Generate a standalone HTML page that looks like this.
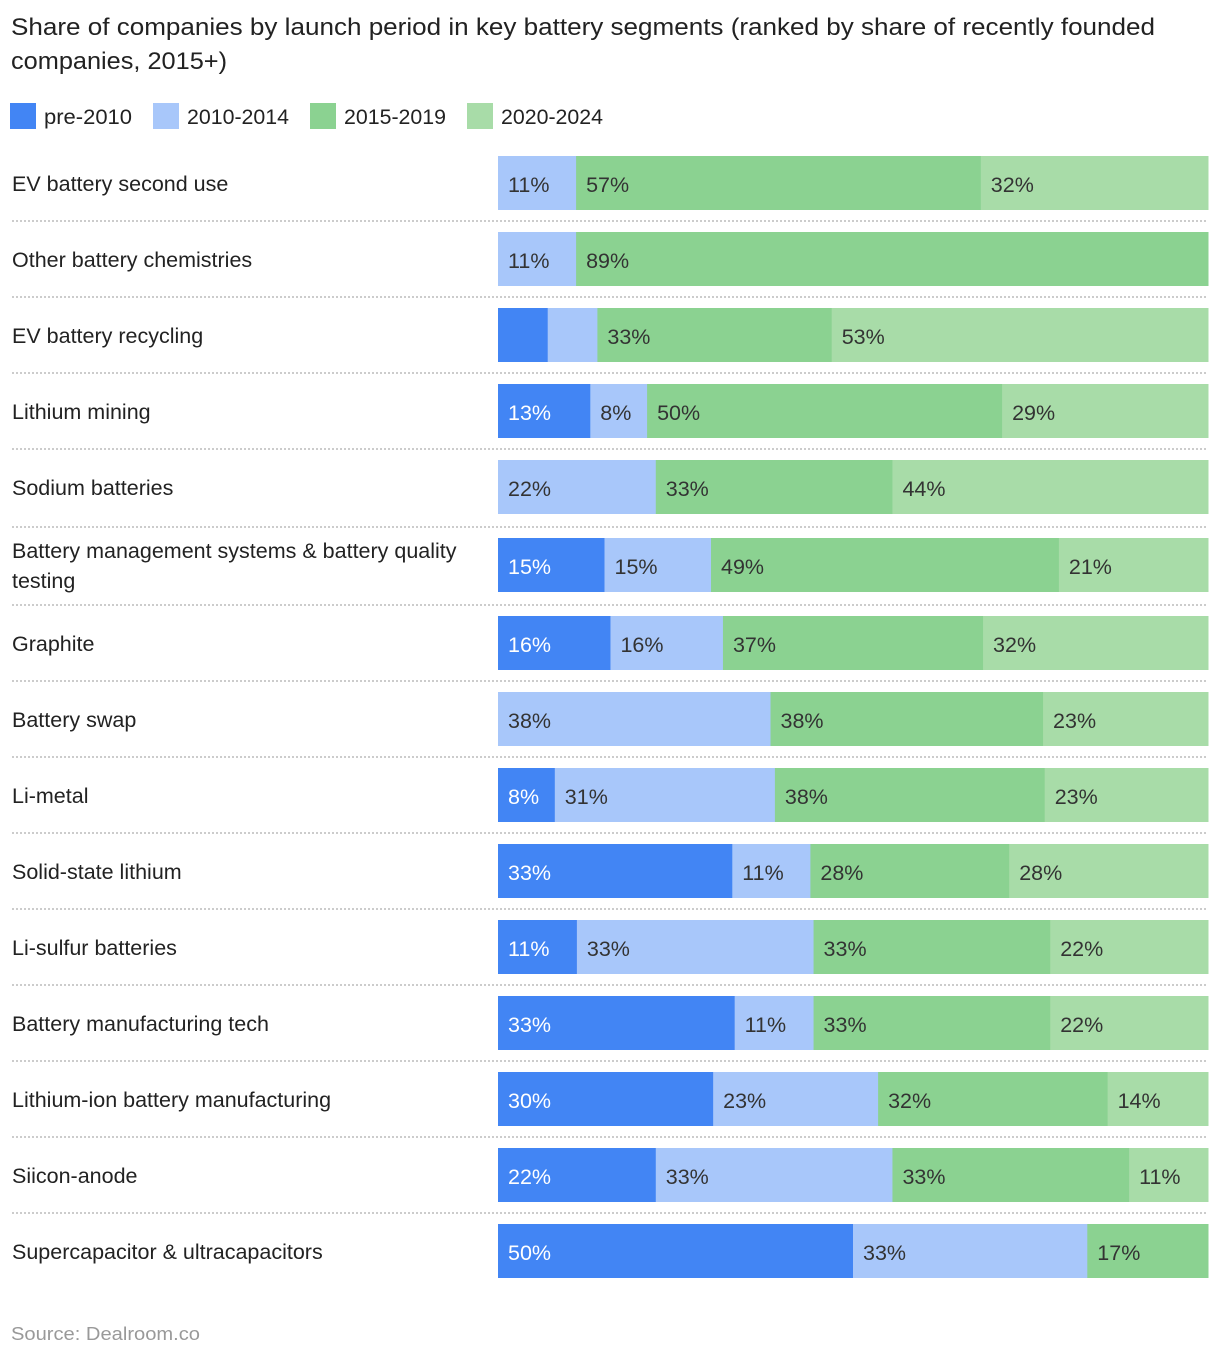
<!DOCTYPE html>
<html><head><meta charset="utf-8">
<style>
body{margin:0;background:#fff;font-family:"Liberation Sans",sans-serif;}
svg text{font-family:"Liberation Sans",sans-serif;}
</style></head>
<body>
<svg id="chart" width="1220" height="1358" viewBox="0 0 1220 1358" xmlns="http://www.w3.org/2000/svg">
<text x="11" y="35" font-size="24" fill="#222" textLength="1144" lengthAdjust="spacingAndGlyphs">Share of companies by launch period in key battery segments (ranked by share of recently founded</text>
<text x="11" y="69" font-size="24" fill="#222" textLength="216" lengthAdjust="spacingAndGlyphs">companies, 2015+)</text>
<g id="legend"></g>
<g id="rows"></g>
<text x="11" y="1340" font-size="18" fill="#999" textLength="189" lengthAdjust="spacingAndGlyphs">Source: Dealroom.co</text>
</svg>
<script>
const categories = ["EV battery second use","Other battery chemistries","EV battery recycling","Lithium mining","Sodium batteries","Battery management systems & battery quality|testing","Graphite","Battery swap","Li-metal","Solid-state lithium","Li-sulfur batteries","Battery manufacturing tech","Lithium-ion battery manufacturing","Siicon-anode","Supercapacitor & ultracapacitors"];
const seriesNames = ["pre-2010","2010-2014","2015-2019","2020-2024"];
const pre2010 = [0,0,7,13,0,15,16,0,8,33,11,33,30,22,50];
const y2010_2014 = [11,11,7,8,22,15,16,38,31,11,33,11,23,33,33];
const y2015_2019 = [57,89,33,50,33,49,37,38,38,28,33,33,32,33,17];
const y2020_2024 = [32,0,53,29,44,21,32,23,23,28,22,22,14,11,0];
const colors = ["#4285f4","#a8c7fa","#8bd291","#a8dca8"];
const textColors = ["#fff","#333","#333","#333"];
const NS="http://www.w3.org/2000/svg";
const leg=document.getElementById('legend');
const rows=document.getElementById('rows');
const legX=[10,153,310,467], legW=[88,102,102,102];
seriesNames.forEach((n,i)=>{
  const r=document.createElementNS(NS,'rect');
  r.setAttribute('x',legX[i]);r.setAttribute('y',103);r.setAttribute('width',26);r.setAttribute('height',26);r.setAttribute('fill',colors[i]);
  
  
  leg.appendChild(r);
  const t=document.createElementNS(NS,'text');
  t.setAttribute('x',legX[i]+34);t.setAttribute('y',124);t.setAttribute('font-size',21);t.setAttribute('fill','#222');
  t.setAttribute('textLength',legW[i]);t.setAttribute('lengthAdjust','spacingAndGlyphs');
  t.textContent=n;
  
  
  leg.appendChild(t);
});
const x0=498, W=710, top0=156, pitch=76, bh=54;
const series=[pre2010,y2010_2014,y2015_2019,y2020_2024];
function xScale(v,total){return v/total*W;}
function rowTop(i){return top0+i*pitch+(i>=5?2:0)+(i>=6?2:0);}
categories.forEach((c,i)=>{
  const y=rowTop(i);
  const lines=c.split('|');
  lines.forEach((ln,j)=>{
    const t=document.createElementNS(NS,'text');
    t.setAttribute('x',12);
    t.setAttribute('y',lines.length>1? y+20+j*30 : y+35);
    t.setAttribute('font-size',21.5);t.setAttribute('fill','#222');
    t.textContent=ln;
    
    
    rows.appendChild(t);
  });
  const total=series.reduce((s,a)=>s+a[i],0);
  let cx=x0;
  series.forEach((arr,k)=>{
    const v=arr[i]; if(!v) return;
    const w=xScale(v,total);
    const r=document.createElementNS(NS,'rect');
    r.setAttribute('x',cx);r.setAttribute('y',y);r.setAttribute('width',w+0.5);r.setAttribute('height',bh);r.setAttribute('fill',colors[k]);
    
    
    rows.appendChild(r);
    if(v>=7.5){
      const t=document.createElementNS(NS,'text');
      t.setAttribute('x',cx+10);t.setAttribute('y',y+36);t.setAttribute('font-size',21.5);t.setAttribute('fill',textColors[k]);
      t.textContent=v+'%';
      
      
      rows.appendChild(t);
    }
    cx+=w;
  });
  if(i<categories.length-1){
    const sy=rowTop(i+1)-11;
    const l=document.createElementNS(NS,'line');
    l.setAttribute('x1',12);l.setAttribute('x2',1208);l.setAttribute('y1',sy);l.setAttribute('y2',sy);
    l.setAttribute('stroke','#ccc');l.setAttribute('stroke-width',2);l.setAttribute('stroke-dasharray','2 2');
    
    
    rows.appendChild(l);
  }
});
</script>
</body></html>
